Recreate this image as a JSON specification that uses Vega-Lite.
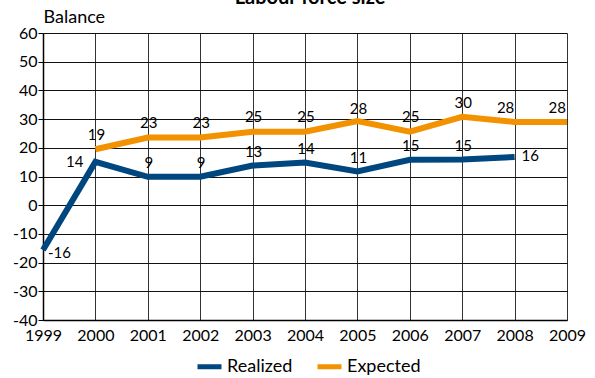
{
  "$schema": "https://vega.github.io/schema/vega-lite/v6.json",
  "width": 524,
  "height": 287,
  "autosize": {"type": "none"},
  "padding": {"left": 43, "top": 33, "right": 28, "bottom": 58},
  "background": "white",
  "title": {"text": "Labour force size", "font": "Lato", "fontSize": 20, "fontWeight": "bold", "anchor": "middle", "frame": "group", "offset": 0, "baseline": "bottom", "dx": 5, "dy": 20, "color": "#000000"},
  "config": {
    "font": "Lato",
    "view": {"stroke": null},
    "text": {"font": "Lato", "color": "#000000"},
    "axisY": {
      "labelOverlap": false, "labelExpr": "'' + datum.value", "tickCount": 11,
      "titleAngle": 0, "titleAlign": "left", "titleBaseline": "alphabetic",
      "titleX": 0, "titleY": -11, "titleFontSize": 18, "titleFontWeight": "normal", "titleFont": "Lato", "titleColor": "#000000",
      "labelFontSize": 16, "labelColor": "#000000", "labelFont": "Lato", "labelPadding": 1,
      "tickSize": 5, "tickColor": "#000000", "grid": true, "gridColor": "#111111", "gridOpacity": 1,
      "domainColor": "#000000", "domainWidth": 1.5
    }
  },
  "data": {
    "values": [
      {"series": "Realized", "year": 1999, "value": -15.6, "label": -16},
      {"series": "Realized", "year": 2000, "value": 15.1, "label": 14},
      {"series": "Realized", "year": 2001, "value": 9.9, "label": 9},
      {"series": "Realized", "year": 2002, "value": 9.9, "label": 9},
      {"series": "Realized", "year": 2003, "value": 13.8, "label": 13},
      {"series": "Realized", "year": 2004, "value": 14.9, "label": 14},
      {"series": "Realized", "year": 2005, "value": 11.8, "label": 11},
      {"series": "Realized", "year": 2006, "value": 15.8, "label": 15},
      {"series": "Realized", "year": 2007, "value": 15.9, "label": 15},
      {"series": "Realized", "year": 2008, "value": 16.8, "label": 16},
      {"series": "Expected", "year": 2000, "value": 19.5, "label": 19},
      {"series": "Expected", "year": 2001, "value": 23.6, "label": 23},
      {"series": "Expected", "year": 2002, "value": 23.6, "label": 23},
      {"series": "Expected", "year": 2003, "value": 25.6, "label": 25},
      {"series": "Expected", "year": 2004, "value": 25.6, "label": 25},
      {"series": "Expected", "year": 2005, "value": 29.3, "label": 28},
      {"series": "Expected", "year": 2006, "value": 25.6, "label": 25},
      {"series": "Expected", "year": 2007, "value": 30.8, "label": 30},
      {"series": "Expected", "year": 2008, "value": 29.0, "label": 28},
      {"series": "Expected", "year": 2009, "value": 29.0, "label": 28}
    ]
  },
  "encoding": {
    "x": {
      "field": "year", "type": "quantitative",
      "scale": {"domain": [1999, 2009], "nice": false, "zero": false},
      "axis": {
        "values": [1999, 2000, 2001, 2002, 2003, 2004, 2005, 2006, 2007, 2008, 2009], "tickCount": 11,
        "format": "d", "title": null, "labelFontSize": 16, "labelColor": "#000000", "labelFont": "Lato",
        "ticks": false, "grid": true, "gridColor": "#333333", "gridOpacity": 1, "gridWidth": 1,
        "domainColor": "#000000", "domainWidth": 1.5, "labelPadding": 7, "labelFlush": false, "labelOverlap": false
      }
    }
  },
  "layer": [
    {
      "mark": {"type": "line", "strokeWidth": 6, "strokeJoin": "miter", "strokeCap": "butt"},
      "encoding": {
        "y": {
          "field": "value", "type": "quantitative",
          "scale": {"domain": [-40, 60], "nice": false, "zero": false},
          "axis": {"values": [-40, -30, -20, -10, 0, 10, 20, 30, 40, 50, 60], "tickCount": 11, "title": "Balance"}
        },
        "color": {
          "field": "series", "type": "nominal",
          "scale": {"domain": ["Realized", "Expected"], "range": ["#00467f", "#f39200"]},
          "legend": {
            "title": null, "orient": "none", "legendX": 152, "legendY": 319, "direction": "horizontal",
            "symbolType": "stroke", "symbolStrokeWidth": 5, "symbolSize": 576,
            "labelFontSize": 18, "labelFont": "Lato", "labelColor": "#000000", "labelOffset": 3, "columnPadding": 14
          }
        }
      }
    },
    {
      "transform": [{"filter": "(datum.series == 'Expected' && datum.year < 2008) || (datum.series == 'Realized' && datum.year >= 2001 && datum.year <= 2007)"}],
      "mark": {"type": "text", "fontSize": 15, "dy": -16, "dx": 1, "align": "center", "baseline": "middle"},
      "encoding": {
        "y": {"field": "label", "type": "quantitative", "axis": {"values": [-40, -30, -20, -10, 0, 10, 20, 30, 40, 50, 60], "tickCount": 11, "title": "Balance"}},
        "text": {"field": "label", "type": "nominal"}
      }
    },
    {
      "transform": [{"filter": "datum.series == 'Expected' && datum.year == 2008"}],
      "mark": {"type": "text", "fontSize": 15, "dy": -17, "dx": -9, "align": "center", "baseline": "middle"},
      "encoding": {
        "y": {"field": "label", "type": "quantitative", "axis": {"values": [-40, -30, -20, -10, 0, 10, 20, 30, 40, 50, 60], "tickCount": 11, "title": "Balance"}},
        "text": {"field": "label", "type": "nominal"}
      }
    },
    {
      "transform": [{"filter": "datum.series == 'Expected' && datum.year == 2009"}],
      "mark": {"type": "text", "fontSize": 15, "dy": -17, "dx": -1, "align": "right", "baseline": "middle"},
      "encoding": {
        "y": {"field": "label", "type": "quantitative", "axis": {"values": [-40, -30, -20, -10, 0, 10, 20, 30, 40, 50, 60], "tickCount": 11, "title": "Balance"}},
        "text": {"field": "label", "type": "nominal"}
      }
    },
    {
      "transform": [{"filter": "datum.series == 'Realized' && datum.year == 2000"}],
      "mark": {"type": "text", "fontSize": 15, "dy": -3, "dx": -12, "align": "right", "baseline": "middle"},
      "encoding": {
        "y": {"field": "label", "type": "quantitative", "axis": {"values": [-40, -30, -20, -10, 0, 10, 20, 30, 40, 50, 60], "tickCount": 11, "title": "Balance"}},
        "text": {"field": "label", "type": "nominal"}
      }
    },
    {
      "transform": [{"filter": "datum.series == 'Realized' && datum.year == 2008"}],
      "mark": {"type": "text", "fontSize": 15, "dy": -3, "dx": 7, "align": "left", "baseline": "middle"},
      "encoding": {
        "y": {"field": "label", "type": "quantitative", "axis": {"values": [-40, -30, -20, -10, 0, 10, 20, 30, 40, 50, 60], "tickCount": 11, "title": "Balance"}},
        "text": {"field": "label", "type": "nominal"}
      }
    },
    {
      "transform": [{"filter": "datum.series == 'Realized' && datum.year == 1999"}],
      "mark": {"type": "text", "fontSize": 15, "dy": 2, "dx": 5, "align": "left", "baseline": "middle"},
      "encoding": {
        "y": {"field": "label", "type": "quantitative", "axis": {"values": [-40, -30, -20, -10, 0, 10, 20, 30, 40, 50, 60], "tickCount": 11, "title": "Balance"}},
        "text": {"field": "label", "type": "nominal"}
      }
    }
  ]
}
